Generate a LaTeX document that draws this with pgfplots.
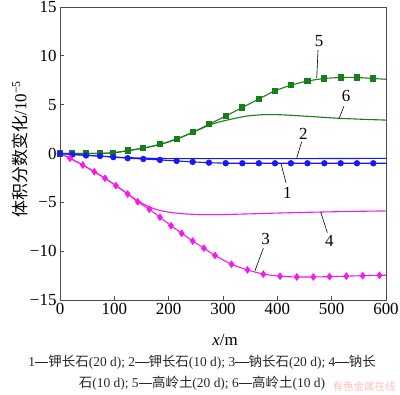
\documentclass[border=0pt]{standalone}
\usepackage{fontspec}
\setmainfont{Liberation Serif}
\newfontfamily\cjk{Noto Sans CJK SC}
\usepackage{pgfplots}
\pgfplotsset{compat=1.18}
\definecolor{cgreen}{RGB}{25,125,25}
\definecolor{cblue}{RGB}{25,25,245}
\definecolor{cmag}{RGB}{245,25,235}
\newcommand\dash{\raisebox{0.3em}{\rule{1em}{0.5pt}}}
\newcommand\zh[1]{{\cjk #1}}
\begin{document}
\begin{tikzpicture}
\begin{axis}[
  at={(60bp,95bp)}, anchor=south west,
  scale only axis, width=326bp, height=293bp,
  xmin=0, xmax=600, ymin=-15, ymax=15,
  xtick={0,100,200,300,400,500,600},
  xticklabels={0,100,200,300,400,500,600},
  ytick={-15,-10,-5,0,5,10,15},
  yticklabels={−15,−10,−5,0,5,10,15},
  tick align=inside, tick pos=left,
  major tick length=4bp,
  tick label style={font=\rmfamily\fontsize{17}{17}\selectfont},
  axis line style={black!70, line width=0.8bp},
  tick style={black!70, line width=0.8bp},
  every axis plot/.append style={line width=1.1bp},
]
% curve 5 (green squares)
\addplot[cgreen, smooth, tension=0.4] coordinates {
(0,0) (22.6,0) (47.9,0) (73.6,0) (98.1,0.08) (124.6,0.3) (153.3,0.55) (184,0.94)
(214.8,1.48) (244.2,2.17) (274.2,2.99) (305,3.84) (335.5,4.71) (366,5.58) (395.7,6.42)
(425,6.99) (455.5,7.42) (486.5,7.68) (516.6,7.78) (546.6,7.78) (576.6,7.68) (600,7.6)};
\addplot[cgreen, only marks, mark=square*, mark size=2.6bp] coordinates {
(0,0) (22.6,0) (47.9,0) (73.6,0) (98.1,0.08) (124.6,0.3) (153.3,0.55) (184,0.94)
(214.8,1.48) (244.2,2.17) (274.2,2.99) (305,3.84) (335.5,4.71) (366,5.58) (395.7,6.42)
(425,6.99) (455.5,7.42) (486.5,7.68) (516.6,7.78) (546.6,7.78) (576.6,7.68)};
% curve 6 (green line)
\addplot[cgreen, smooth, tension=0.4] coordinates {
(0,0) (50,0) (100,0.08) (150,0.52) (185,0.94) (215,1.48) (244,2.15) (262,2.6)
(282,3.05) (302,3.35) (322,3.6) (345,3.84) (375,3.98) (405,3.97) (435,3.88) (466,3.77)
(515,3.6) (558,3.5) (600,3.42)};
% curve 2 (blue line)
\addplot[cblue, smooth, tension=0.4] coordinates {
(0,0) (50,-0.18) (100,-0.36) (150,-0.47) (200,-0.52) (300,-0.53) (450,-0.52) (600,-0.5)};
% curve 1 (blue circles)
\addplot[cblue, smooth, tension=0.4] coordinates {
(0,0) (22.6,-0.1) (47.9,-0.2) (73.6,-0.26) (98.1,-0.37) (124.6,-0.48) (153.3,-0.56)
(184,-0.66) (214.8,-0.76) (244.2,-0.86) (274.2,-0.94) (305,-0.99) (335.5,-1.0) (366,-1.0)
(395.7,-1.0) (425,-1.0) (455.5,-1.0) (486.5,-1.0) (516.6,-1.0) (546.6,-1.0) (576.6,-1.0) (600,-1.0)};
\addplot[cblue, only marks, mark=*, mark size=2.6bp] coordinates {
(0,0) (22.6,-0.1) (47.9,-0.2) (73.6,-0.26) (98.1,-0.37) (124.6,-0.48) (153.3,-0.56)
(184,-0.66) (214.8,-0.76) (244.2,-0.86) (274.2,-0.94) (305,-0.99) (335.5,-1.0) (366,-1.0)
(395.7,-1.0) (425,-1.0) (455.5,-1.0) (486.5,-1.0) (516.6,-1.0) (546.6,-1.0) (576.6,-1.0)};
% curve 4 (magenta line)
\addplot[cmag, smooth, tension=0.4] coordinates {
(0,0) (18.4,-0.49) (41.8,-1.18) (63.1,-1.86) (82.8,-2.54) (103,-3.29) (124.6,-4.12)
(140,-4.75) (160,-5.35) (180,-5.78) (205,-6.05) (235,-6.2) (265,-6.26) (300,-6.25)
(350,-6.18) (400,-6.1) (450,-6.03) (500,-5.97) (550,-5.92) (600,-5.88)};
% curve 3 (magenta diamonds)
\addplot[cmag, smooth, tension=0.4] coordinates {
(0,0) (18.4,-0.49) (41.8,-1.18) (63.1,-1.86) (82.8,-2.54) (103,-3.29) (124.6,-4.15)
(143,-4.94) (164.4,-5.71) (184,-6.53) (204.3,-7.39) (224,-8.17) (244.2,-8.96) (265,-9.7)
(285.3,-10.44) (315.7,-11.34) (345,-11.92) (374.2,-12.35) (405,-12.57) (435.7,-12.64)
(466.2,-12.64) (496,-12.61) (527,-12.56) (557,-12.51) (588,-12.47) (600,-12.47)};
\addplot[cmag, only marks, mark=diamond*, mark size=3bp] coordinates {
(18.4,-0.49) (41.8,-1.18) (63.1,-1.86) (82.8,-2.54) (103,-3.29) (124.6,-4.15)
(143,-4.94) (164.4,-5.71) (184,-6.53) (204.3,-7.39) (224,-8.17) (244.2,-8.96) (265,-9.7)
(285.3,-10.44) (315.7,-11.34) (345,-11.92) (374.2,-12.35) (405,-12.57) (435.7,-12.64)
(466.2,-12.64) (496,-12.61) (527,-12.56) (557,-12.51) (588,-12.47)};
% labels
\draw[black, line width=0.6bp] (axis cs:474.9,10.59) -- (axis cs:472.5,7.75);
\node[font=\fontsize{17}{17}\selectfont] at (axis cs:476.7,11.5) {5};
\draw[black, line width=0.6bp] (axis cs:522.7,4.86) -- (axis cs:514.1,3.65);
\node[font=\fontsize{17}{17}\selectfont] at (axis cs:526.4,5.9) {6};
\draw[black, line width=0.6bp] (axis cs:444.9,1.21) -- (axis cs:435.7,-0.45);
\node[font=\fontsize{17}{17}\selectfont] at (axis cs:447.8,2.0) {2};
\draw[black, line width=0.6bp] (axis cs:416,-2.99) -- (axis cs:406.8,-1.05);
\node[font=\fontsize{17}{17}\selectfont] at (axis cs:418.4,-4.0) {1};
\draw[black, line width=0.6bp] (axis cs:374.2,-9.7) -- (axis cs:358.9,-12.0);
\node[font=\fontsize{17}{17}\selectfont] at (axis cs:378.6,-8.8) {3};
\draw[black, line width=0.6bp] (axis cs:492,-8.1) -- (axis cs:479.8,-6.0);
\node[font=\fontsize{17}{17}\selectfont] at (axis cs:495.7,-9.0) {4};
\end{axis}
\node[rotate=90, font=\fontsize{17}{17}\selectfont] at (20bp,246bp) {\zh{体积分数变化}/10\textsuperscript{−5}};
\node[font=\fontsize{17}{17}\selectfont] at (225bp,55bp) {\textit{x}/m};
\node[font=\fontsize{13.5}{14}\selectfont, text=black!85] at (202bp,33bp) {1\dash\zh{钾长石}(20 d); 2\dash\zh{钾长石}(10 d); 3\dash\zh{钠长石}(20 d); 4\dash\zh{钠长}};
\node[font=\fontsize{13.5}{14}\selectfont, text=black!85] at (202bp,11.5bp) {\zh{石}(10 d); 5\dash\zh{高岭土}(20 d); 6\dash\zh{高岭土}(10 d)};
\node[font=\cjk\fontsize{10.5}{11}\selectfont, text=red!25, anchor=east] at (399bp,9bp) {有色金属在线};
\pgfresetboundingbox
\path (0bp,0bp) rectangle (400bp,395bp);
\end{tikzpicture}
\end{document}
